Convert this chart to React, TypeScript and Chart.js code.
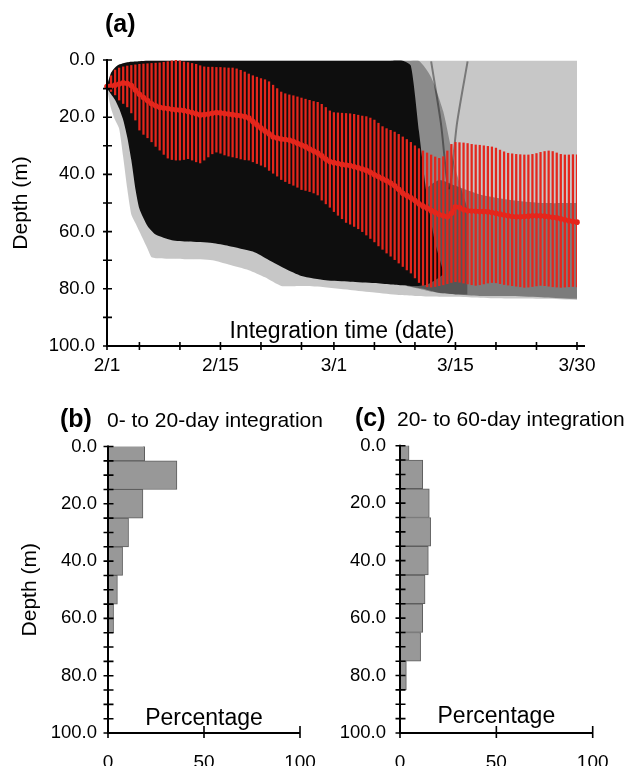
import React, { useEffect, useRef } from 'react';
import { Chart, registerables } from 'chart.js';

Chart.register(...registerables);

const FONT = '"Liberation Sans", Arial, Helvetica, sans-serif';
const RED = 'rgb(228,38,28)';

// ---------------- panel (a) ----------------
const dayTicks = [0, 4, 9, 14, 19, 24, 28, 33, 38, 43, 48, 53, 58];
const dayTickLabels = ['2/1', '', '', '2/15', '', '', '3/1', '', '', '3/15', '', '', '3/30'];

const sampleDays = [
  0, 0.5, 1, 1.5, 2, 2.5, 3, 3.5, 4, 4.5,
  5, 5.5, 6, 6.5, 7, 7.5, 8, 8.5, 9, 9.5,
  10, 10.5, 11, 11.5, 12, 12.5, 13, 13.5, 14, 14.5,
  15, 15.5, 16, 16.5, 17, 17.5, 18, 18.5, 19, 19.5,
  20, 20.5, 21, 21.5, 22, 22.5, 23, 23.5, 24, 24.5,
  25, 25.5, 26, 26.5, 27, 27.5, 28, 28.5, 29, 29.5,
  30, 30.5, 31, 31.5, 32, 32.5, 33, 33.5, 34, 34.5,
  35, 35.5, 36, 36.5, 37, 37.5, 38, 38.5, 39, 39.5,
  40, 40.5, 41, 41.5, 42, 42.5, 43, 43.5, 44, 44.5,
  45, 45.5, 46, 46.5, 47, 47.5, 48, 48.5, 49, 49.5,
  50, 50.5, 51, 51.5, 52, 52.5, 53, 53.5, 54, 54.5,
  55, 55.5, 56, 56.5, 57, 57.5, 58,
];

const meanDepth = [
  9.3, 9.1, 8.8, 8.4, 8.0, 8.2, 8.9, 10.5, 12.0, 13.1,
  14.2, 15.3, 16.0, 16.5, 16.8, 17.0, 17.2, 17.4, 17.5, 17.7,
  18.0, 18.4, 18.8, 19.2, 19.1, 18.9, 18.6, 18.4, 18.5, 18.7,
  18.9, 19.1, 19.3, 19.5, 19.8, 20.3, 21.5, 22.7, 23.8, 24.8,
  25.8, 26.9, 27.3, 27.6, 27.8, 28.0, 28.5, 29.1, 29.7, 30.3,
  31.1, 31.8, 32.5, 33.5, 34.6, 35.5, 35.9, 36.2, 36.5, 36.7,
  36.9, 37.3, 37.7, 38.1, 38.6, 39.3, 40.1, 40.8, 41.5, 42.2,
  43.0, 44.0, 45.2, 46.6, 47.4, 48.2, 49.1, 50.3, 51.1, 51.8,
  52.6, 53.3, 54.0, 54.5, 54.8, 53.6, 51.3, 51.6, 52.3, 52.7,
  52.8, 52.9, 53.0, 53.0, 53.1, 53.3, 53.6, 53.9, 54.2, 54.5,
  54.7, 54.8, 54.8, 54.7, 54.6, 54.5, 54.5, 54.5, 54.6, 54.8,
  55.0, 55.2, 55.5, 55.9, 56.2, 56.5, 56.7,
];

const upperDepth = [
  8.0, 5.5, 3.5, 2.8, 2.4, 2.1, 1.9, 1.7, 1.5, 1.4,
  1.3, 1.2, 1.1, 1.0, 0.8, 0.6, 0.3, 0.0, 0.3, 0.7,
  0.9, 1.2, 1.5, 2.0, 2.4, 2.5, 2.5, 2.6, 2.6, 2.7,
  2.8, 2.8, 3.1, 3.6, 4.2, 4.9, 5.5, 6.0, 6.5, 6.9,
  7.6, 8.8, 10.0, 11.2, 11.8, 12.2, 12.5, 12.9, 13.3, 13.7,
  14.1, 14.5, 14.8, 15.5, 16.6, 17.8, 18.4, 18.5, 18.6, 18.7,
  18.8, 19.0, 19.3, 19.6, 19.8, 20.3, 21.0, 22.1, 23.3, 24.0,
  24.6, 25.2, 26.0, 26.9, 27.8, 28.8, 30.0, 31.0, 31.8, 32.5,
  33.2, 33.9, 34.4, 33.8, 31.8, 29.5, 28.8, 28.9, 29.0, 29.2,
  29.5, 29.7, 29.8, 30.0, 30.2, 30.4, 30.8, 31.5, 32.1, 32.6,
  32.8, 33.0, 33.1, 33.2, 33.2, 33.0, 32.7, 32.3, 32.0, 31.8,
  32.0, 32.5, 33.0, 33.2, 33.2, 33.1, 33.2,
];

const lowerDepth = [
  10.0, 11.0, 12.2, 14.0, 15.2, 16.4, 18.5, 21.0, 24.5, 26.0,
  27.2, 28.6, 30.2, 31.5, 33.0, 34.3, 34.8, 35.0, 35.0, 34.8,
  34.5, 35.0, 35.6, 36.0, 35.0, 33.9, 32.8, 32.2, 32.6, 33.2,
  33.6, 33.9, 34.2, 34.6, 34.9, 35.0, 35.6, 36.2, 36.8, 37.4,
  38.6, 39.6, 40.6, 41.8, 42.5, 43.2, 43.8, 44.5, 45.3, 45.6,
  46.0, 46.5, 47.2, 49.0, 50.3, 51.5, 53.0, 54.3, 55.5, 56.8,
  57.4, 58.2, 59.0, 60.0, 61.2, 62.4, 63.6, 65.0, 66.2, 67.5,
  68.6, 69.8, 71.0, 72.2, 73.4, 74.5, 76.2, 77.8, 78.8, 79.3,
  79.4, 79.2, 78.9, 78.6, 78.2, 77.8, 77.5, 77.7, 78.0, 78.3,
  78.6, 78.8, 78.6, 78.3, 78.0, 77.8, 77.9, 78.2, 78.5, 78.7,
  78.9, 79.1, 79.3, 79.5, 79.4, 79.2, 79.0, 78.8, 78.9, 79.1,
  79.3, 79.4, 79.5, 79.4, 79.3, 79.2, 79.3,
];

// envelope of all trajectories (sparse grey lines)
const cloudDays = [0, 0.5, 1, 1.5, 2, 2.5, 3, 3.5, 4, 5, 5.5, 6, 8, 10, 13, 15, 17.5, 19.5, 21.5, 24, 26, 30, 33, 36, 38, 40, 42, 45, 48, 51, 54, 58];
const cloudTop = [9, 4.5, 2.6, 1.6, 1.1, 0.8, 0.6, 0.5, 0.4, 0.3, 0.3, 0.3, 0.3, 0.3, 0.3, 0.3, 0.3, 0.3, 0.3, 0.3, 0.3, 0.3, 0.3, 0.3, 0.3, 0.3, 0.3, 0.3, 0.3, 0.3, 0.3, 0.3];
const cloudBottom = [10, 17, 21, 24, 34, 45, 54, 57, 60, 66, 69, 69.3, 69.5, 69.7, 70, 71.5, 73.5, 76, 79, 79, 79.2, 80.4, 81.3, 82.2, 82.5, 82.7, 82.8, 83.0, 83.3, 83.4, 83.5, 83.9];

// transition zone right of the dense core
const transDays = [35, 37, 38.5, 40, 41.5, 43, 44.5];
const transTop = [0.3, 0.3, 0.3, 6, 18, 38, 52];
const transBottom = [78, 79, 80, 81, 81.5, 82, 82];

// dense core of trajectories
const coreDays = [0, 0.5, 1, 1.5, 2, 2.5, 3, 3.5, 4, 5, 6, 8, 10, 13, 15, 18, 20, 22, 24, 27, 30, 33, 35, 36.5, 37.5, 38.5, 39.5, 40.5, 41.5];
const coreTop = [9, 4.5, 2.6, 1.6, 1.1, 0.8, 0.6, 0.5, 0.4, 0.3, 0.3, 0.3, 0.3, 0.3, 0.3, 0.3, 0.3, 0.3, 0.3, 0.3, 0.3, 0.3, 0.3, 0.3, 2, 25, 48, 64, 74];
const coreBottom = [10, 12, 14, 17, 21, 27, 35, 45, 52, 58, 61, 63, 63.5, 64, 65, 67, 70, 73, 75.5, 77, 77.5, 78, 78.5, 78.8, 79, 79, 78.5, 77, 75];

// medium-density deep band after ~3/8
const midDays = [37, 39, 41, 43, 46, 50, 54, 58];
const midTop = [55, 46, 42, 44, 47, 49, 50, 50];
const midBottom = [79, 80, 81.5, 82, 82.5, 82.5, 83, 83.5];

// bundle of trajectories dipping near 3/15
const vDays = [40, 41.2, 42.2, 43.2, 44.5];
const vDepth = [0.5, 22, 45, 22, 0.5];

// ---------------- panels (b), (c) ----------------
const binDepths = [0, 10, 20, 30, 40, 50, 60, 70, 80];
const pct0to20 = [19.1, 35.9, 18.2, 10.7, 7.6, 4.9, 2.9];
const pct20to60 = [4.7, 11.8, 15.2, 15.9, 14.7, 13.0, 11.8, 10.7, 3.3];

type TextItem = {
  text: string;
  font: string;
  x: (a: any) => number;
  y: (a: any) => number;
  align?: CanvasTextAlign;
  baseline?: CanvasTextBaseline;
  rotate?: boolean;
};

function decor(o: { xUp: number; xDown: number; yOut: number; yIn: number; xExtend: number; texts: TextItem[] }) {
  return {
    id: 'decor',
    afterDraw(chart: any) {
      const { ctx, chartArea: a } = chart;
      const xs = chart.scales.x;
      const ys = chart.scales.y;
      ctx.save();
      ctx.strokeStyle = '#000';
      ctx.lineWidth = 2;
      ctx.beginPath();
      ctx.moveTo(a.left, a.top - 1);
      ctx.lineTo(a.left, a.bottom + 1);
      ctx.moveTo(a.left - 1, a.bottom);
      ctx.lineTo(a.right + o.xExtend, a.bottom);
      ctx.stroke();
      ctx.lineWidth = 1.6;
      ctx.beginPath();
      xs.ticks.forEach((t: any) => {
        const p = xs.getPixelForValue(t.value);
        ctx.moveTo(p, a.bottom - o.xUp);
        ctx.lineTo(p, a.bottom + o.xDown);
      });
      ys.ticks.forEach((t: any) => {
        const p = ys.getPixelForValue(t.value);
        ctx.moveTo(a.left - o.yOut, p);
        ctx.lineTo(a.left + o.yIn, p);
      });
      ctx.stroke();
      ctx.fillStyle = '#000';
      for (const t of o.texts) {
        ctx.font = t.font;
        ctx.textAlign = t.align || 'left';
        ctx.textBaseline = t.baseline || 'alphabetic';
        const x = t.x(a);
        const y = t.y(a);
        if (t.rotate) {
          ctx.save();
          ctx.translate(x, y);
          ctx.rotate(-Math.PI / 2);
          ctx.fillText(t.text, 0, 0);
          ctx.restore();
        } else {
          ctx.fillText(t.text, x, y);
        }
      }
      ctx.restore();
    },
  };
}

const pts = (xs: number[], ys: number[]) => xs.map((x, i) => ({ x, y: ys[i] }));

function band(data: any[], order: number, fill: any, bg: string) {
  return {
    type: 'line',
    data,
    order,
    fill,
    backgroundColor: bg,
    borderColor: 'rgba(0,0,0,0)',
    borderWidth: 0,
    pointRadius: 0,
    tension: 0.2,
  };
}

function makeA(): any {
  return {
    type: 'line',
    data: {
      datasets: [
        band(pts(cloudDays, cloudTop), 7, false, 'rgba(0,0,0,0)'),
        band(pts(cloudDays, cloudBottom), 7, '-1', 'rgba(0,0,0,0.22)'),
        band(pts(transDays, transTop), 6, false, 'rgba(0,0,0,0)'),
        band(pts(transDays, transBottom), 6, '-1', 'rgba(0,0,0,0.3)'),
        band(pts(midDays, midTop), 5, false, 'rgba(0,0,0,0)'),
        band(pts(midDays, midBottom), 5, '-1', 'rgba(0,0,0,0.38)'),
        band(pts(coreDays, coreTop), 4, false, 'rgba(0,0,0,0)'),
        band(pts(coreDays, coreBottom), 4, '-1', 'rgb(14,14,14)'),
        {
          type: 'line',
          data: pts(vDays, vDepth),
          order: 3,
          borderColor: 'rgba(0,0,0,0.4)',
          borderWidth: 2,
          pointRadius: 0,
          tension: 0.3,
          fill: false,
        },
        {
          type: 'bar',
          data: sampleDays.map((d, i) => ({ x: d, y: [upperDepth[i], lowerDepth[i]] })),
          order: 2,
          backgroundColor: RED,
          borderWidth: 0,
          barThickness: 1.6,
          clip: 0,
        },
        {
          type: 'line',
          data: pts(sampleDays, meanDepth),
          order: 1,
          borderColor: RED,
          borderWidth: 3.5,
          pointRadius: 2.8,
          pointBorderWidth: 0,
          pointBackgroundColor: RED,
          fill: false,
          clip: 6,
        },
      ],
    },
    options: {
      responsive: false,
      animation: false,
      devicePixelRatio: 1,
      events: [],
      layout: { padding: { top: 60, right: 55, left: 0, bottom: 0 } },
      plugins: { legend: { display: false }, tooltip: { enabled: false } },
      scales: {
        x: {
          type: 'linear',
          min: 0,
          max: 58,
          offset: false,
          grid: { display: false, drawTicks: false, offset: false },
          border: { display: false },
          afterBuildTicks: (s: any) => {
            s.ticks = dayTicks.map((v) => ({ value: v }));
          },
          afterFit: (s: any) => {
            s.height = 44;
          },
          ticks: {
            autoSkip: false,
            maxRotation: 0,
            minRotation: 0,
            padding: 8,
            color: '#000',
            font: { family: FONT, size: 19 },
            callback: (_v: any, i: number) => dayTickLabels[i] ?? '',
          },
        },
        y: {
          type: 'linear',
          reverse: true,
          min: 0,
          max: 100,
          grid: { display: false, drawTicks: false },
          border: { display: false },
          afterFit: (s: any) => {
            s.width = 107;
          },
          ticks: {
            stepSize: 10,
            autoSkip: false,
            padding: 12,
            color: '#000',
            font: { family: FONT, size: 18.5 },
            callback: (v: any) => (Number(v) % 20 === 0 ? Number(v).toFixed(1) : ''),
          },
        },
      },
    },
    plugins: [
      decor({
        xUp: 4,
        xDown: 4,
        yOut: 4,
        yIn: 5,
        xExtend: 8,
        texts: [
          { text: '(a)', font: `bold 25px ${FONT}`, x: (a) => a.left - 2, y: (a) => a.top - 28 },
          {
            text: 'Depth (m)',
            font: `21px ${FONT}`,
            x: () => 21,
            y: (a) => (a.top + a.bottom) / 2,
            align: 'center',
            baseline: 'middle',
            rotate: true,
          },
          {
            text: 'Integration time (date)',
            font: `23px ${FONT}`,
            x: (a) => (a.left + a.right) / 2,
            y: (a) => a.bottom - 8,
            align: 'center',
          },
        ],
      }),
    ],
  };
}

function makeHist(
  pct: number[],
  title: string,
  label: string,
  yWidth: number,
  padTop: number,
  padRight: number,
  tickPad: number,
  depthLabel: boolean,
  titleDx: number,
  textDx: number,
  pctBase: number,
): any {
  const texts: TextItem[] = [
    { text: label, font: `bold 25px ${FONT}`, x: (a) => a.left + titleDx, y: (a) => a.top - 20 },
    { text: title, font: `21px ${FONT}`, x: (a) => a.left + textDx, y: (a) => a.top - 20 },
    {
      text: 'Percentage',
      font: `23px ${FONT}`,
      x: (a) => (a.left + a.right) / 2,
      y: (a) => a.bottom - pctBase,
      align: 'center',
    },
  ];
  if (depthLabel) {
    texts.push({
      text: 'Depth (m)',
      font: `21px ${FONT}`,
      x: () => 30,
      y: (a) => (a.top + a.bottom) / 2,
      align: 'center',
      baseline: 'middle',
      rotate: true,
    });
  }
  return {
    type: 'bar',
    data: {
      datasets: [
        {
          data: pct.map((p, i) => ({ x: p, y: binDepths[i] })),
          backgroundColor: '#989898',
          borderColor: '#5e5e5e',
          borderWidth: 1,
          borderSkipped: 'start',
          barThickness: 28.7,
          clip: 0,
        },
      ],
    },
    options: {
      indexAxis: 'y',
      responsive: false,
      animation: false,
      devicePixelRatio: 1,
      events: [],
      layout: { padding: { top: padTop, right: padRight, left: 0, bottom: 0 } },
      plugins: { legend: { display: false }, tooltip: { enabled: false } },
      scales: {
        x: {
          type: 'linear',
          min: 0,
          max: 100,
          offset: false,
          grid: { display: false, drawTicks: false, offset: false },
          border: { display: false },
          afterFit: (s: any) => {
            s.height = 33;
          },
          ticks: {
            stepSize: 50,
            autoSkip: false,
            maxRotation: 0,
            padding: 18,
            color: '#000',
            font: { family: FONT, size: 19 },
          },
        },
        y: {
          type: 'linear',
          reverse: true,
          min: 0,
          max: 100,
          offset: false,
          grid: { display: false, drawTicks: false, offset: false },
          border: { display: false },
          afterFit: (s: any) => {
            s.width = yWidth;
          },
          ticks: {
            stepSize: 5,
            autoSkip: false,
            padding: tickPad,
            color: '#000',
            font: { family: FONT, size: 18.5 },
            callback: (v: any) => (Number(v) % 20 === 0 ? Number(v).toFixed(1) : ''),
          },
        },
      },
    },
    plugins: [decor({ xUp: 7, xDown: 5, yOut: 4.5, yIn: 5.5, xExtend: 0, texts })],
  };
}

function ChartBox(props: { make: () => any; left: number; top: number; width: number; height: number }) {
  const ref = useRef<HTMLCanvasElement>(null);
  useEffect(() => {
    const chart = new Chart(ref.current as HTMLCanvasElement, props.make());
    return () => chart.destroy();
  }, []);
  return (
    <canvas
      ref={ref}
      width={props.width}
      height={props.height}
      style={{ position: 'absolute', left: props.left, top: props.top, width: props.width, height: props.height }}
    />
  );
}

export default function App() {
  return (
    <div
      style={{
        position: 'absolute',
        left: 0,
        top: 0,
        width: 632,
        height: 766,
        overflow: 'hidden',
        background: '#fff',
      }}
    >
      <ChartBox make={makeA} left={0} top={0} width={632} height={390} />
      <ChartBox
        make={() => makeHist(pct20to60, '20- to 60-day integration', '(c)', 80, 65.7, 39.3, 14, false, -45, -3, 10)}
        left={320}
        top={380}
        width={312}
        height={386}
      />
      <ChartBox
        make={() => makeHist(pct0to20, '0- to 20-day integration', '(b)', 108, 66.5, 40, 11, true, -48, -1, 8)}
        left={0}
        top={380}
        width={340}
        height={386}
      />
    </div>
  );
}
